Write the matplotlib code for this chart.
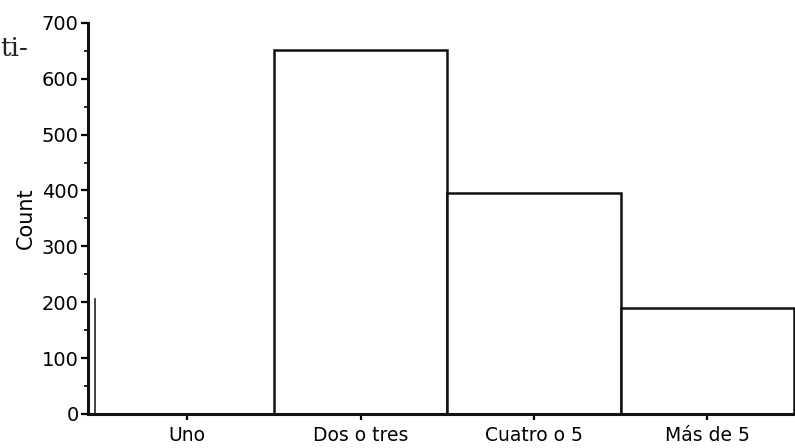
import matplotlib
matplotlib.use("Agg")
import matplotlib.pyplot as plt
from matplotlib.ticker import MultipleLocator

categorias = ["Uno", "Dos o tres", "Cuatro o 5", "Más de 5"]
conteos = [0, 652, 395, 190]
yticks = [0, 100, 200, 300, 400, 500, 600, 700]
marca_scan = 205  # trazo suelto junto al eje en el escaneo

plt.rcParams['font.family'] = ['DejaVu Sans']

fig = plt.figure(figsize=(7.95, 4.48), dpi=100)
ax = fig.add_axes([0.111, 0.076, 0.889, 0.873])

x = list(range(len(categorias)))
ax.bar(x, conteos, width=1.0, color="white", edgecolor="#111111", linewidth=1.8)
ax.plot([-0.53, -0.53], [0, marca_scan], color="#222222", linewidth=1.2)

ax.set_xlim(-0.57, 3.505)
ax.set_ylim(0, 700)
ax.set_yticks(yticks)
ax.yaxis.set_minor_locator(MultipleLocator(50))
ax.set_xticks(x)
ax.set_xticklabels(categorias, fontsize=13.5)
ax.tick_params(axis="y", labelsize=14, length=5, width=1.6, pad=2)
ax.tick_params(axis="y", which="minor", length=3, width=1.2)
ax.tick_params(axis="x", length=4, width=1.6, pad=5)

for s in ["top", "right"]:
    ax.spines[s].set_visible(False)
for s in ["left", "bottom"]:
    ax.spines[s].set_linewidth(2.2)
    ax.spines[s].set_color("#111111")

ax.set_ylabel("Count", fontsize=15, labelpad=4)

# resto del texto de la pagina escaneada
fig.text(0.0, 0.875, "ti-", fontsize=19, family="DejaVu Serif", color="#222222")

fig.savefig("out.png", dpi=100)
